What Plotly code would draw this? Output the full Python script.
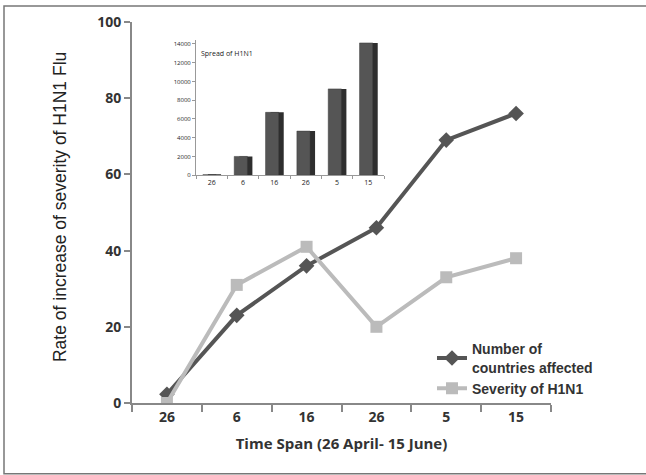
import plotly.graph_objects as go

# ---- data ----
time_labels = ["26", "6", "16", "26", "5", "15"]
countries_affected = [2.3, 23, 36, 46, 69, 76]
severity = [0, 31, 41, 20, 33, 38]
spread_cases = [60, 2000, 6700, 4700, 9200, 14100]

W, H = 646, 475
L, R, T, B = 132, 95, 20, 72
pw, ph = W - L - R, H - T - B

def px_x(p):
    return (p - L) / pw

def px_y(p):
    return (H - B - p) / ph

x = list(range(len(time_labels)))

# inset y: 0 at px 174, 14000 at px 42 -> extend top slightly so tallest bar isn't clipped
inset_top = 14400
inset_top_px = 174 - (174 - 42) * inset_top / 14000

fig = go.Figure()

# inset bars (3D-ish: darker side then front)
fig.add_trace(go.Bar(x=x, y=spread_cases, xaxis="x2", yaxis="y2", width=0.42, offset=-0.12,
                     marker=dict(color="#2e2e2e", line=dict(width=0)), showlegend=False, hoverinfo="skip"))
fig.add_trace(go.Bar(x=x, y=spread_cases, xaxis="x2", yaxis="y2", width=0.42, offset=-0.28,
                     marker=dict(color="#555555", line=dict(color="#3a3a3a", width=0.5)), showlegend=False))

fig.add_trace(go.Scatter(x=x, y=countries_affected, mode="lines+markers",
                         name="Number of<br>countries affected",
                         line=dict(color="#555555", width=4),
                         marker=dict(symbol="diamond", size=12, color="#555555")))
fig.add_trace(go.Scatter(x=x, y=severity, mode="lines+markers",
                         name="Severity of H1N1",
                         line=dict(color="#bbbbbb", width=4),
                         marker=dict(symbol="square", size=12, color="#bbbbbb")))

fig.update_layout(
    width=W, height=H,
    margin=dict(l=L, r=R, t=T, b=B),
    paper_bgcolor="white", plot_bgcolor="white",
    barmode="overlay",
    font=dict(family="Liberation Sans", color="#333333"),
    xaxis=dict(range=[-0.5, 5.5], tickvals=x, ticktext=time_labels, ticks="", ticklen=0,
               showline=True, linecolor="#888888", linewidth=2, showgrid=False, zeroline=False,
               tickfont=dict(family="Open Sans", size=14, color="#333333", weight="bold"),
               minor=dict(tick0=-0.5, dtick=1, ticks="outside", ticklen=7, tickwidth=2, tickcolor="#888888"),
               title=dict(text="Time Span (26 April- 15 June)", standoff=14,
                          font=dict(family="Open Sans", size=15, color="#333333", weight="bold"))),
    yaxis=dict(range=[0, 100], dtick=20, ticks="outside", ticklen=6, tickwidth=2, tickcolor="#888888",
               showline=True, linecolor="#888888", linewidth=2, showgrid=False, zeroline=False,
               tickfont=dict(family="Open Sans", size=14, color="#333333", weight="bold")),
    xaxis2=dict(domain=[px_x(196), px_x(384)], anchor="y2", range=[-0.5, 5.5],
                tickvals=x, ticktext=time_labels, ticks="", showgrid=False, zeroline=False,
                showline=True, linecolor="#999999", linewidth=1,
                minor=dict(tick0=-0.5, dtick=1, ticks="outside", ticklen=3, tickcolor="#999999"),
                tickfont=dict(family="Open Sans", size=7, color="#222222")),
    yaxis2=dict(domain=[px_y(174), px_y(inset_top_px)], anchor="x2", range=[0, inset_top],
                tickvals=[0, 2000, 4000, 6000, 8000, 10000, 12000, 14000], tickformat="d",
                ticks="outside", ticklen=3, tickcolor="#999999", showline=True, linecolor="#999999",
                linewidth=1, showgrid=False, zeroline=False,
                tickfont=dict(family="Open Sans", size=6, color="#222222")),
    legend=dict(x=px_x(432), y=px_y(333), xanchor="left", yanchor="top",
                bgcolor="rgba(0,0,0,0)", itemwidth=30, tracegroupgap=4,
                font=dict(family="Liberation Sans", size=14, color="#333333", weight="bold")),
    annotations=[
        dict(text="Spread of H1N1", xref="paper", yref="paper", x=px_x(199), y=px_y(52),
             xanchor="left", yanchor="middle", showarrow=False,
             font=dict(family="Open Sans", size=7, color="#222222")),
        dict(text="Rate of increase of severity of H1N1 Flu", xref="paper", yref="paper",
             x=px_x(60), y=px_y(206), xanchor="center", yanchor="middle", textangle=-90,
             showarrow=False, font=dict(family="Liberation Sans", size=17.5, color="#222222")),
    ],
    shapes=[dict(type="rect", xref="paper", yref="paper",
                 x0=px_x(4), x1=px_x(660), y0=px_y(474), y1=px_y(4),
                 line=dict(color="#777777", width=1.5), fillcolor="rgba(0,0,0,0)", layer="below")],
)

fig.write_html("out.html")
